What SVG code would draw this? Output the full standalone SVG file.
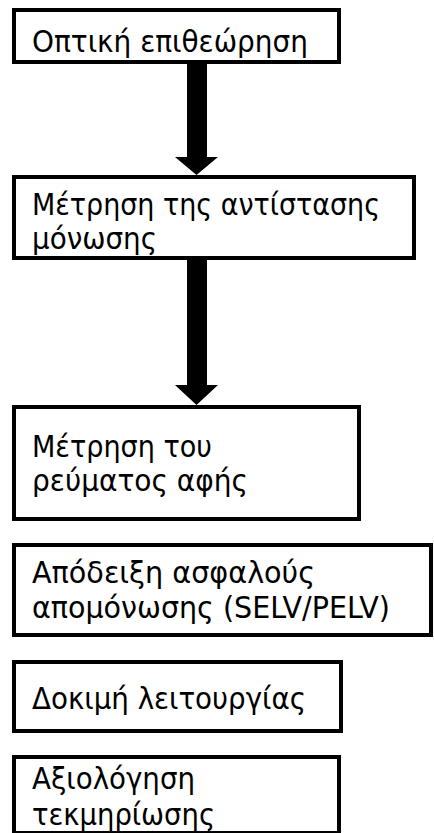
<svg xmlns="http://www.w3.org/2000/svg" width="434" height="833" viewBox="0 0 434 833">
<style>
.box{fill:#fff;stroke:#000;stroke-width:4}
.t{font-family:"DejaVu Sans Condensed","DejaVu Sans","Liberation Sans",sans-serif;font-size:31px;fill:#000}
.arr{fill:#000}
</style>
<rect width="434" height="833" fill="#fff"/>
<g id="connectors">
<polygon class="arr" points="187,64 207,64 207,157 218,157 196.5,175 175,157 187,157"/>
<polygon class="arr" points="187,260 207,260 207,385 218,385 196.5,405 175,385 187,385"/>
</g>
<g id="n1"><rect class="box" x="14" y="10" width="325" height="52"/><text class="t" x="32" y="52" textLength="276" lengthAdjust="spacingAndGlyphs">Οπτική επιθεώρηση</text></g>
<g id="n2"><rect class="box" x="14" y="177" width="400" height="81"/><text class="t" x="32" y="215" textLength="348" lengthAdjust="spacingAndGlyphs">Μέτρηση της αντίστασης</text><text class="t" x="32" y="249" textLength="125" lengthAdjust="spacingAndGlyphs">μόνωσης</text></g>
<g id="n3"><rect class="box" x="14" y="407" width="345" height="112"/><text class="t" x="32" y="457" textLength="180" lengthAdjust="spacingAndGlyphs">Μέτρηση του</text><text class="t" x="32" y="491" textLength="216" lengthAdjust="spacingAndGlyphs">ρεύματος αφής</text></g>
<g id="n4"><rect class="box" x="14" y="545" width="417" height="90"/><text class="t" x="32" y="583" textLength="283" lengthAdjust="spacingAndGlyphs">Απόδειξη ασφαλούς</text><text class="t" x="32" y="618" textLength="358" lengthAdjust="spacingAndGlyphs">απομόνωσης (SELV/PELV)</text></g>
<g id="n5"><rect class="box" x="14" y="662" width="327" height="69"/><text class="t" x="32" y="709" textLength="274" lengthAdjust="spacingAndGlyphs">Δοκιμή λειτουργίας</text></g>
<g id="n6"><rect class="box" x="14" y="757" width="325" height="76"/><text class="t" x="32" y="789" textLength="163" lengthAdjust="spacingAndGlyphs">Αξιολόγηση</text><text class="t" x="32" y="825" textLength="183" lengthAdjust="spacingAndGlyphs">τεκμηρίωσης</text></g>
</svg>
